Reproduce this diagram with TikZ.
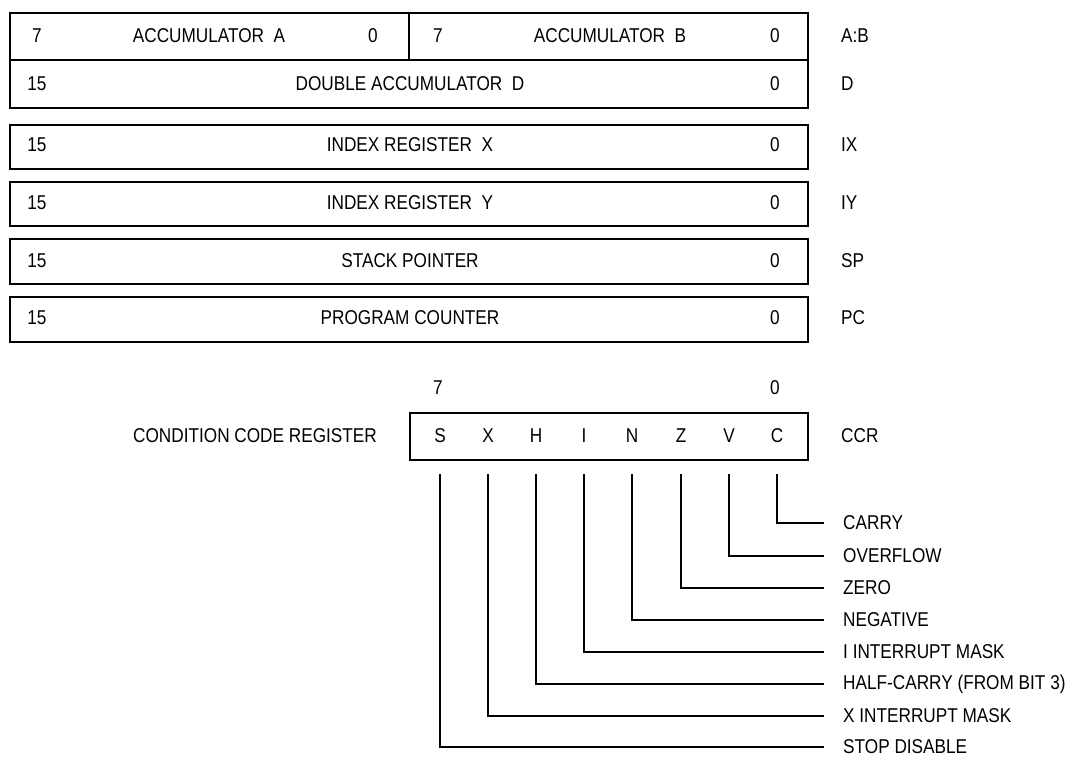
\documentclass[tikz,border=0pt]{standalone}
\usepackage{fontspec}
\setmainfont{Liberation Sans}[FakeStretch=0.86]
\begin{document}
\begin{tikzpicture}[x=1pt,y=-1pt,
  reg/.style={draw,line width=2pt,inner sep=0pt,anchor=north west},
  txt/.style={inner sep=0pt,font=\fontsize{20}{24}\selectfont},
  lab/.style={txt,anchor=west},
  wire/.style={line width=2pt}]
\useasboundingbox (0,0) rectangle (1067,757);
% register boxes
\node[reg,minimum width=798pt,minimum height=95pt] (abd) at (9,12) {};
\node[reg,minimum width=798pt,minimum height=44pt] (ix) at (9,124) {};
\node[reg,minimum width=798pt,minimum height=44pt] (iy) at (9,181) {};
\node[reg,minimum width=798pt,minimum height=45pt] (sp) at (9,238) {};
\node[reg,minimum width=798pt,minimum height=45pt] (pc) at (9,296) {};
\node[reg,minimum width=398pt,minimum height=47pt] (ccr) at (409,412) {};
\coordinate (mid) at (9,60);
\coordinate (midr) at (807,60);
\coordinate (divt) at (409,12);
\coordinate (divb) at (409,60);
\draw[wire] (mid) -- (midr);
\draw[wire] (divt) -- (divb);
% row A:B
\node[txt] (a7) at (37,36) {7};
\node[txt] (aname) at (209,36) {ACCUMULATOR\ \ A};
\node[txt] (a0) at (373,36) {0};
\node[txt] (b7) at (438,36) {7};
\node[txt] (bname) at (610,36) {ACCUMULATOR\ \ B};
\node[txt] (b0) at (775,36) {0};
\node[lab] (lab) at (841,36) {A:B};
% row D
\node[txt] (d15) at (37,84) {15};
\node[txt] (dname) at (410,84) {DOUBLE ACCUMULATOR\ \ D};
\node[txt] (d0) at (775,84) {0};
\node[lab] (ld) at (841,84) {D};
% IX
\node[txt] (x15) at (37,145) {15};
\node[txt] (xname) at (410,145) {INDEX REGISTER\ \ X};
\node[txt] (x0) at (775,145) {0};
\node[lab] (lix) at (841,145) {IX};
% IY
\node[txt] (y15) at (37,203) {15};
\node[txt] (yname) at (410,203) {INDEX REGISTER\ \ Y};
\node[txt] (y0) at (775,203) {0};
\node[lab] (liy) at (841,203) {IY};
% SP
\node[txt] (s15) at (37,261) {15};
\node[txt] (sname) at (410,261) {STACK POINTER};
\node[txt] (s0) at (775,261) {0};
\node[lab] (lsp) at (841,261) {SP};
% PC
\node[txt] (p15) at (37,318) {15};
\node[txt] (pname) at (410,318) {PROGRAM COUNTER};
\node[txt] (p0) at (775,318) {0};
\node[lab] (lpc) at (841,318) {PC};
% CCR
\node[txt] (c7) at (438,388) {7};
\node[txt] (c0) at (775,388) {0};
\node[txt] (cname) at (255,436) {CONDITION CODE REGISTER};
\node[lab] (lccr) at (841,436) {CCR};
\foreach \n/\x in {S/440,X/488,H/536,I/584,N/632,Z/681,V/729,C/777}
  \node[txt] (bit\n) at (\x,436) {\n};
% flag labels
\node[lab] (fC) at (843,523) {CARRY};
\node[lab] (fV) at (843,556) {OVERFLOW};
\node[lab] (fZ) at (843,588) {ZERO};
\node[lab] (fN) at (843,620) {NEGATIVE};
\node[lab] (fI) at (843,652) {I INTERRUPT MASK};
\node[lab] (fH) at (843,684) {HALF-CARRY (FROM BIT 3)};
\node[lab] (fX) at (843,716) {X INTERRUPT MASK};
\node[lab] (fS) at (843,747) {STOP DISABLE};
\foreach \n in {S,X,H,I,N,Z,V,C}
  \draw[wire] (bit\n |- 0,474) |- ([xshift=-19pt]f\n.west);
\end{tikzpicture}
\end{document}
